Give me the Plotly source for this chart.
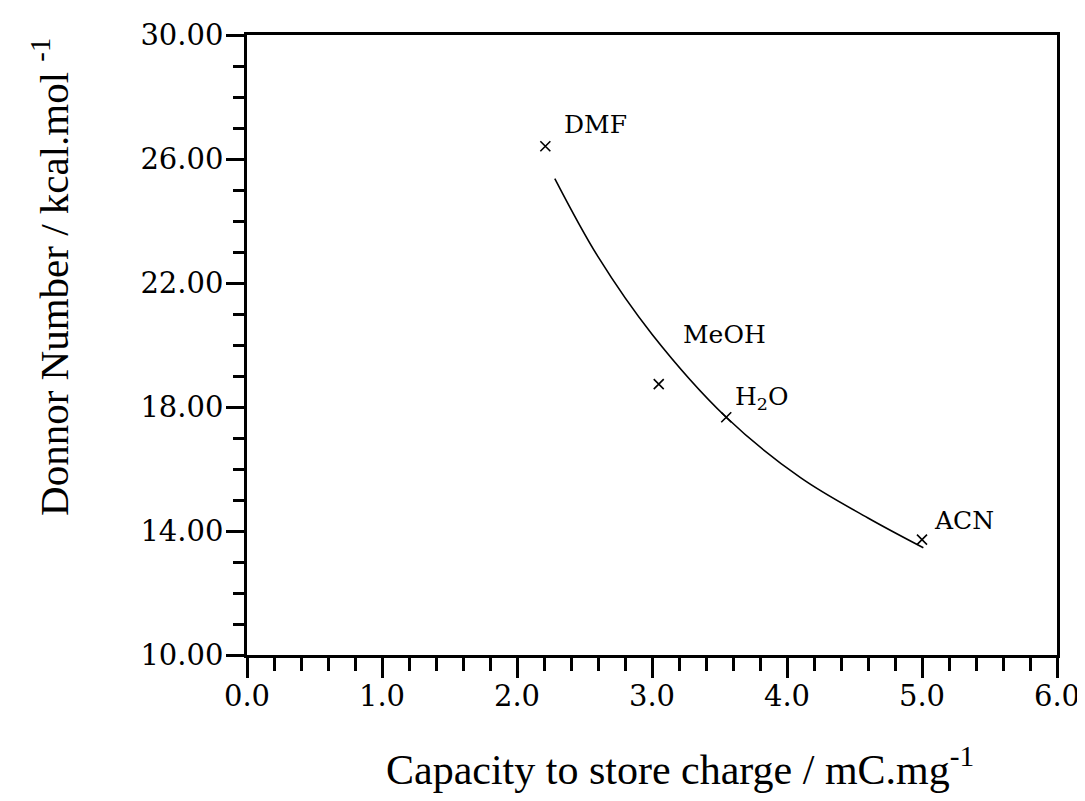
import plotly.graph_objects as go

# Measured solvent points
solvents = ["DMF", "MeOH", "H<sub>2</sub>O", "ACN"]
capacity = [2.21, 3.05, 3.55, 5.00]
donor_number = [26.41, 18.74, 17.67, 13.72]

# Label positions
label_x = [2.58, 3.54, 3.81, 5.31]
label_y = [27.12, 20.33, 18.29, 14.35]

# Fitted curve
curve_x = [2.28, 2.60, 3.00, 3.55, 4.10, 4.60, 5.01]
curve_y = [25.37, 22.85, 20.35, 17.67, 15.72, 14.42, 13.46]

fig = go.Figure()
fig.add_trace(go.Scatter(x=curve_x, y=curve_y, mode="lines",
                         line=dict(color="black", width=1.6, shape="spline", smoothing=1.0),
                         showlegend=False, hoverinfo="skip"))
fig.add_trace(go.Scatter(x=capacity, y=donor_number, mode="markers",
                         marker=dict(symbol="x-thin", size=10,
                                     line=dict(width=1.6, color="black")),
                         showlegend=False))

for t, lx, ly in zip(solvents, label_x, label_y):
    fig.add_annotation(x=lx, y=ly, text=t, showarrow=False,
                       font=dict(family="DejaVu Serif", size=25, color="black"))

# Axis titles placed as paper annotations
fig.add_annotation(xref="paper", yref="paper", x=0.534, y=-0.18,
                   text="Capacity to store charge / mC.mg<sup>-1</sup>",
                   showarrow=False, xanchor="center", yanchor="middle",
                   font=dict(family="Liberation Serif", size=42, color="black"))
fig.add_annotation(xref="paper", yref="paper", x=-0.243, y=0.61,
                   text="Donnor Number / kcal.mol <sup>-1</sup>", textangle=-90,
                   showarrow=False, xanchor="center", yanchor="middle",
                   font=dict(family="Liberation Serif", size=41, color="black"))

fig.update_layout(
    width=1077, height=793,
    margin=dict(l=239, r=28, t=27, b=146),
    paper_bgcolor="white", plot_bgcolor="white",
    font=dict(family="DejaVu Serif", color="black"),
    xaxis=dict(
        range=[0, 6], tick0=0, dtick=1, tickformat=".1f",
        ticks="outside", ticklen=20, tickwidth=3, tickcolor="black",
        minor=dict(dtick=0.2, ticks="outside", ticklen=13, tickwidth=2.5, tickcolor="black"),
        showline=True, linecolor="black", linewidth=2.5, mirror=True,
        showgrid=False, zeroline=False, automargin=False,
        ticklabelstandoff=-7,
        tickfont=dict(family="DejaVu Serif", size=29, color="black"),
    ),
    yaxis=dict(
        range=[10, 30], tick0=10, dtick=4, tickformat=".2f",
        ticks="outside", ticklen=18, tickwidth=3, tickcolor="black",
        minor=dict(dtick=1, ticks="outside", ticklen=11, tickwidth=2.5, tickcolor="black"),
        showline=True, linecolor="black", linewidth=2.5, mirror=True,
        showgrid=False, zeroline=False, automargin=False,
        ticklabelstandoff=-3,
        tickfont=dict(family="DejaVu Serif", size=29, color="black"),
    ),
)

fig.write_html("out.html")
